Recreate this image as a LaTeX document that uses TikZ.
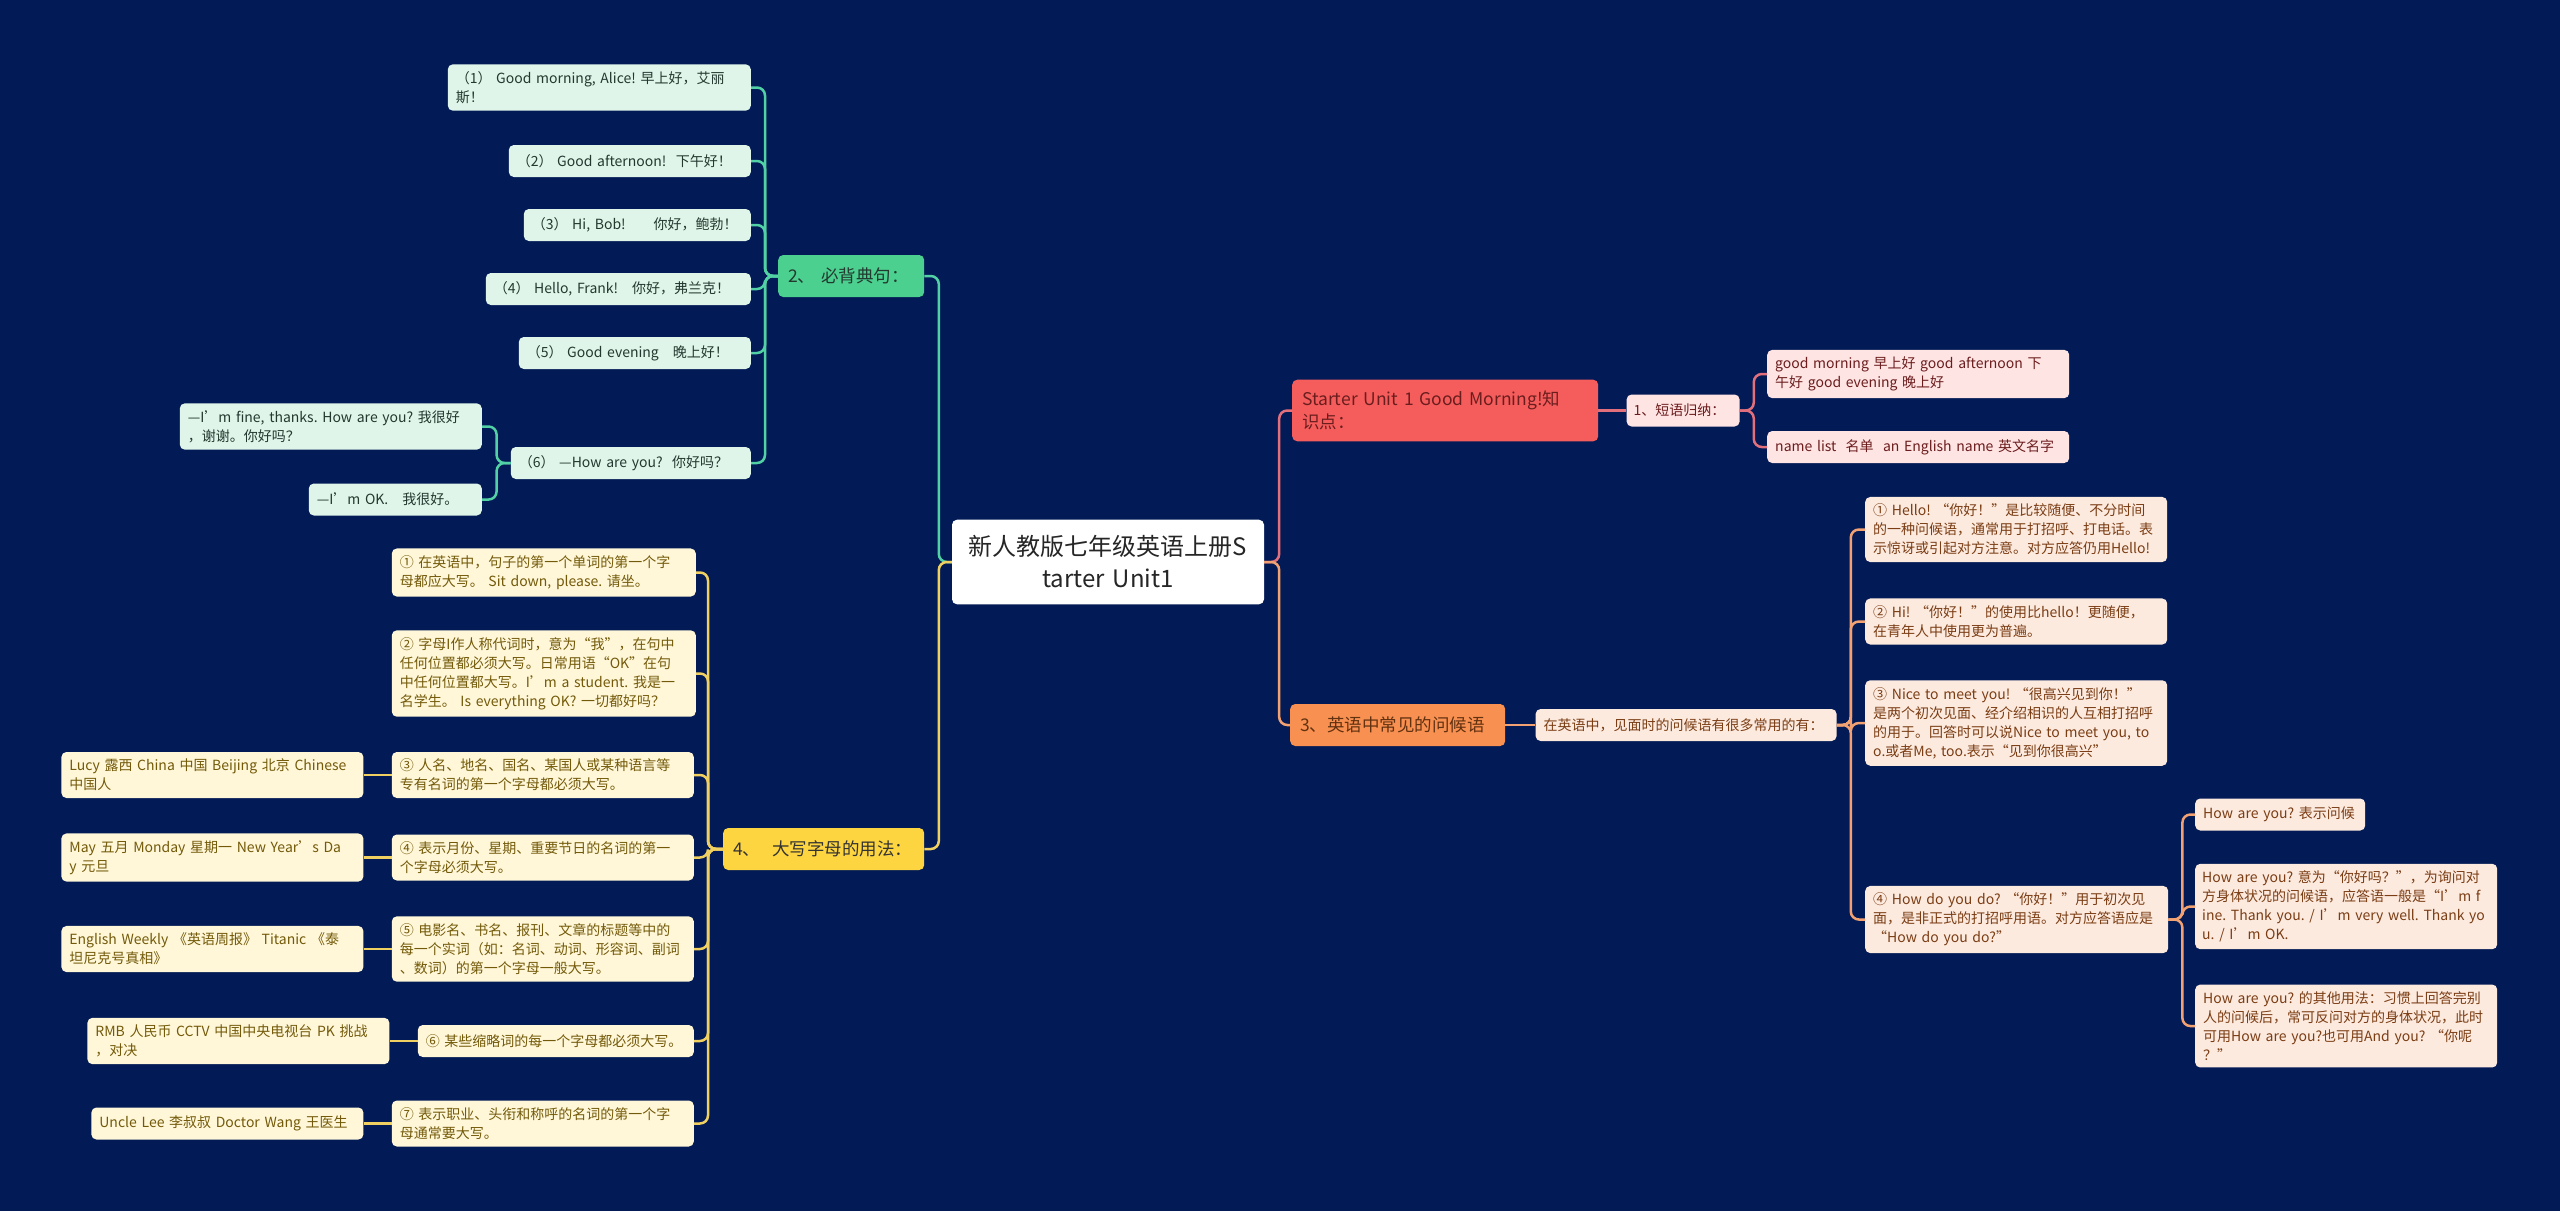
\documentclass[tikz,border=0pt]{standalone}
\usepackage{fontspec}
\setmainfont{Noto Sans CJK SC}
\usepackage{xcolor}
\usepackage{tikz}
\usetikzlibrary{positioning,calc}
\frenchspacing
\definecolor{bgnavy}{HTML}{021A55}
\definecolor{grnfill}{HTML}{4BD08F}
\definecolor{grnline}{HTML}{52D1A5}
\definecolor{grnleaf}{HTML}{DFF5EA}
\definecolor{grntext}{HTML}{23392F}
\definecolor{yelfill}{HTML}{FDD540}
\definecolor{yelline}{HTML}{F0D060}
\definecolor{yelleaf}{HTML}{FFF7D8}
\definecolor{yeltext}{HTML}{735A0A}
\definecolor{redfill}{HTML}{F55D5D}
\definecolor{redline}{HTML}{E2707C}
\definecolor{redleaf}{HTML}{FFE4E4}
\definecolor{redtext}{HTML}{6B1D1D}
\definecolor{orgfill}{HTML}{F79050}
\definecolor{orgline}{HTML}{F2A272}
\definecolor{orgleaf}{HTML}{FDEADF}
\definecolor{orgtext}{HTML}{7A3D14}

\begin{document}
\begin{tikzpicture}[
  x=1pt,y=-1pt,
  node distance=28pt,
  box/.style={rectangle,rounded corners=5pt,align=left,inner xsep=8pt,inner ysep=7pt,minimum height=32pt,font=\fontsize{14}{19}\selectfont},
  rootbox/.style={box,fill=white,text=black!85,align=center,inner xsep=16pt,inner ysep=16pt,text width=280pt,font=\fontsize{24}{32}\selectfont},
  topic/.style={box,inner xsep=10pt,inner ysep=11pt,minimum height=42pt,font=\fontsize{17.5}{23.5}\selectfont},
  gtopic/.style={topic,fill=grnfill,text=grntext},
  ytopic/.style={topic,fill=yelfill,text=black!80},
  rtopic/.style={topic,fill=redfill,text=redtext},
  otopic/.style={topic,fill=orgfill,text=orgtext!80!black},
  gleaf/.style={box,fill=grnleaf,text=grntext},
  yleaf/.style={box,fill=yelleaf,text=yeltext},
  rleaf/.style={box,fill=redleaf,text=redtext},
  oleaf/.style={box,fill=orgleaf,text=orgtext},
  link/.style={line width=2.5pt,rounded corners=8pt}]
\fill[bgnavy] (0,0) rectangle (2560,1211);

\node[rootbox] (root) at (1108,562) {新人教版七年级英语上册S\\tarter Unit1};

% left: 2
\node[gtopic,text width=126pt,anchor=west] (g2) at (778,276) {2、\ 必背典句：};
\node[gleaf,text width=287pt,anchor=east] (s1) at (751,87.5) {（1） Good morning, Alice! 早上好，艾丽\\斯！};
\node[gleaf,text width=226pt,anchor=east] (s2) at (751,161) {（2） Good afternoon!\ \ 下午好！};
\node[gleaf,text width=211pt,anchor=east] (s3) at (751,225) {（3） Hi, Bob!\qquad 你好，鲍勃！};
\node[gleaf,text width=249pt,anchor=east] (s4) at (751,289) {（4） Hello, Frank!\quad 你好，弗兰克！};
\node[gleaf,text width=216pt,anchor=east] (s5) at (751,353) {（5） Good evening\quad 晚上好！};
\node[gleaf,text width=224pt,anchor=east] (s6) at (751,463) {（6） —How are you?\ \ 你好吗？};
\node[gleaf,text width=286pt,anchor=east] (s6a) at (482,426.5) {—I’m fine, thanks. How are you? 我很好\\，谢谢。你好吗？};
\node[gleaf,text width=157pt,anchor=east] (s6b) at (482,499.5) {—I’m OK.\quad 我很好。};

% left: 4
\node[ytopic,text width=181pt,anchor=west] (g4) at (723,849) {4、\ \ 大写字母的用法：};
\node[yleaf,text width=288pt,anchor=east] (c1) at (696,572.5) {① 在英语中，句子的第一个单词的第一个字\\母都应大写。 Sit down, please. 请坐。};
\node[yleaf,text width=288pt,anchor=east] (c2) at (696,673.5) {② 字母I作人称代词时，意为“我”，在句中\\任何位置都必须大写。日常用语“OK”在句\\中任何位置都大写。I’m a student. 我是一\\名学生。 Is everything OK? 一切都好吗？};
\node[yleaf,text width=286pt,anchor=east] (c3) at (694,775) {③ 人名、地名、国名、某国人或某种语言等\\专有名词的第一个字母都必须大写。};
\node[yleaf,text width=286pt,anchor=east] (c4) at (694,857.5) {④ 表示月份、星期、重要节日的名词的第一\\个字母必须大写。};
\node[yleaf,text width=286pt,anchor=east] (c5) at (694,949) {⑤ 电影名、书名、报刊、文章的标题等中的\\每一个实词（如：名词、动词、形容词、副词\\、数词）的第一个字母一般大写。};
\node[yleaf,text width=260pt,anchor=east] (c6) at (694,1041) {⑥ 某些缩略词的每一个字母都必须大写。};
\node[yleaf,text width=286pt,anchor=east] (c7) at (694,1123.5) {⑦ 表示职业、头衔和称呼的名词的第一个字\\母通常要大写。};
\node[yleaf,text width=286pt,left=of c3] (c3a) {Lucy 露西 China 中国 Beijing 北京 Chinese\\中国人};
\node[yleaf,text width=286pt,left=of c4] (c4a) {May 五月 Monday 星期一 New Year’s Da\\y 元旦};
\node[yleaf,text width=286pt,left=of c5] (c5a) {English Weekly 《英语周报》 Titanic 《泰\\坦尼克号真相》};
\node[yleaf,text width=286pt,left=of c6] (c6a) {RMB 人民币 CCTV 中国中央电视台 PK 挑战\\，对决};
\node[yleaf,text width=256pt,left=of c7] (c7a) {Uncle Lee 李叔叔 Doctor Wang 王医生};

% right: Starter
\node[rtopic,text width=286pt,anchor=west] (st) at (1292,410.5) {Starter Unit 1 Good Morning!知\\识点：};
\node[rleaf,text width=99pt,inner xsep=7pt,right=of st] (p1) {1、短语归纳：};
\node[rleaf,text width=286pt,anchor=west] (p1a) at (1767,374) {good morning 早上好 good afternoon 下\\午好 good evening 晚上好};
\node[rleaf,text width=286pt,anchor=west] (p1b) at (1767,447) {name list\ \ 名单\ \ an English name 英文名字};

% right: 3
\node[otopic,text width=195pt,anchor=west] (g3) at (1290,725) {3、英语中常见的问候语};
\node[oleaf,text width=285pt,right=30pt of g3] (g3a) {在英语中，见面时的问候语有很多常用的有：};
\node[oleaf,text width=286pt,anchor=west] (h1) at (1865,529.5) {① Hello! “你好！”是比较随便、不分时间\\的一种问候语，通常用于打招呼、打电话。表\\示惊讶或引起对方注意。对方应答仍用Hello!};
\node[oleaf,text width=286pt,anchor=west] (h2) at (1865,621.5) {② Hi! “你好！”的使用比hello！更随便，\\在青年人中使用更为普遍。};
\node[oleaf,text width=286pt,anchor=west] (h3) at (1865,723) {③ Nice to meet you! “很高兴见到你！”\\是两个初次见面、经介绍相识的人互相打招呼\\的用于。回答时可以说Nice to meet you, to\\o.或者Me, too.表示“见到你很高兴”};
\node[oleaf,text width=287pt,anchor=west] (h4) at (1865,919.5) {④ How do you do? “你好！”用于初次见\\面，是非正式的打招呼用语。对方应答语应是\\“How do you do?”};
\node[oleaf,text width=154pt,anchor=west] (h4a) at (2195,814.5) {How are you? 表示问候};
\node[oleaf,text width=288pt,inner xsep=7pt,anchor=west] (h4b) at (2195,906.5) {How are you? 意为“你好吗？”，为询问对\\方身体状况的问候语，应答语一般是“I’m f\\ine. Thank you. / I’m very well. Thank yo\\u. / I’m OK.};
\node[oleaf,text width=286pt,anchor=west] (h4c) at (2195,1026) {How are you? 的其他用法：习惯上回答完别\\人的问候后，常可反问对方的身体状况，此时\\可用How are you?也可用And you? “你呢\\？”};

\draw[link,grnline] (root.west) -- ++(-13,0) |- (g2.east);
\draw[link,yelline] (root.west) -- ++(-13,0) |- (g4.east);
\draw[link,redline] (root.east) -- ++(15,0) |- (st.west);
\draw[link,orgline] (root.east) -- ++(15,0) |- (g3.west);
\foreach \n in {s1,s2,s3,s4,s5,s6}
  \draw[link,grnline] (g2.west) -- ++(-13,0) |- (\n.east);
\foreach \n in {s6a,s6b}
  \draw[link,grnline] (s6.west) -- ++(-14,0) |- (\n.east);
\foreach \n in {c1,c2,c3,c4,c5,c6,c7}
  \draw[link,yelline] (g4.west) -- ++(-15,0) |- (\n.east);
\foreach \n in {c3,c4,c5,c6,c7}
  \draw[link,yelline] (\n.west) -- (\n a.east);
\draw[link,redline] (st.east) -- (p1.west);
\foreach \n in {p1a,p1b}
  \draw[link,redline] (p1.east) -- ++(14,0) |- (\n.west);
\draw[link,orgline] (g3.east) -- (g3a.west);
\foreach \n in {h1,h2,h3,h4}
  \draw[link,orgline] (g3a.east) -- ++(14,0) |- (\n.west);
\foreach \n in {h4a,h4b,h4c}
  \draw[link,orgline] (h4.east) -- ++(14,0) |- (\n.west);
\end{tikzpicture}
\end{document}
